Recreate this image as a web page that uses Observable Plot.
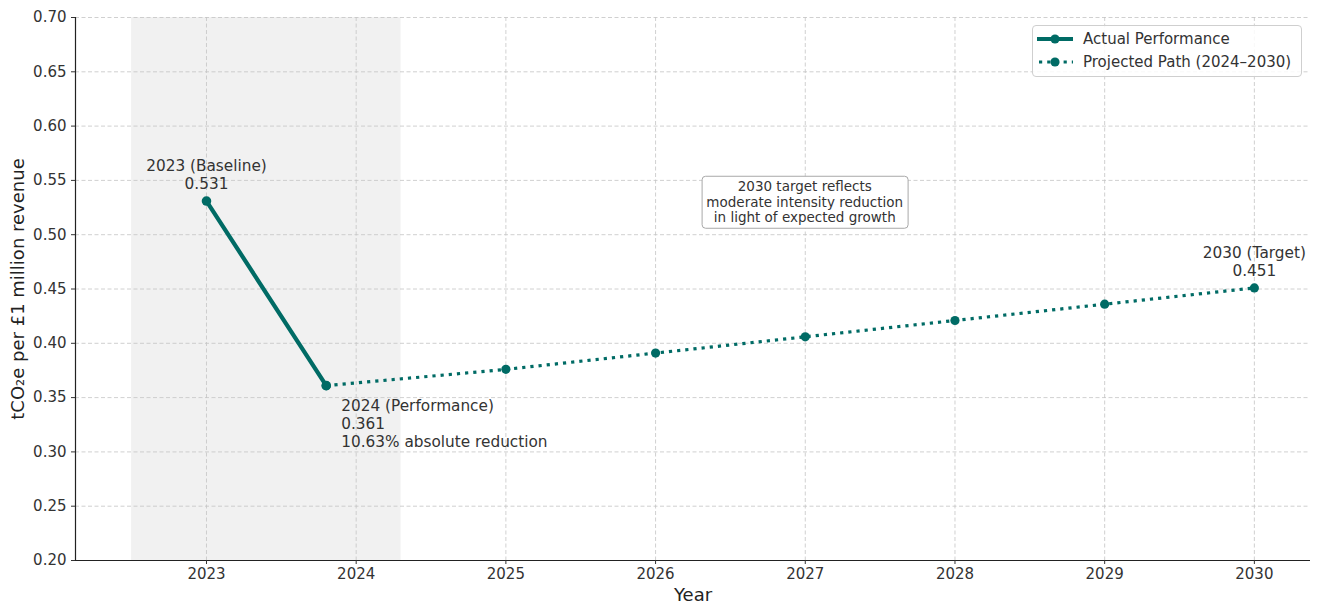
<!DOCTYPE html>
<html><head><meta charset="utf-8">
<script src="https://cdn.jsdelivr.net/npm/d3@7"></script>
<script src="https://cdn.jsdelivr.net/npm/@observablehq/plot@0.6"></script>
<style>
body{margin:0;background:#fff;font-family:"DejaVu Sans",sans-serif;}
#wrap{position:relative;width:1319px;height:606px;}
#legend{position:absolute;left:1032px;top:25px;width:268px;height:50px;border:1px solid #cfcfcf;border-radius:4px;background:rgba(255,255,255,0.85);font-size:15px;color:#333;}
#legend .row{position:absolute;left:0;height:22px;display:flex;align-items:center;}
#legend svg{margin-left:3px;margin-right:9px;}
#note{position:absolute;border:1px solid #a8a8a8;border-radius:4px;background:#fff;font-size:13.5px;line-height:15.5px;color:#333;text-align:center;padding:2px 4px;white-space:nowrap;transform:translate(-50%,-50%);}
</style>
</head><body><div id="wrap"></div>
<script>
const teal = "#006b65";
const actualYears = [2023, 2023.8];
const actualValues = [0.531, 0.361];
const projYears = [2023.8, 2025, 2026, 2027, 2028, 2029, 2030];
const projValues = [0.361, 0.376, 0.391, 0.406, 0.421, 0.436, 0.451];
const xTicks = [2023, 2024, 2025, 2026, 2027, 2028, 2029, 2030];
const xTickLabels = ["2023", "2024", "2025", "2026", "2027", "2028", "2029", "2030"];
const yTicks = [0.20, 0.25, 0.30, 0.35, 0.40, 0.45, 0.50, 0.55, 0.60, 0.65, 0.70];
const shadeStart = 2022.5, shadeEnd = 2024.3;
const xDomain = [2022.125, 2030.375];
const yDomain = [0.2, 0.7];
const topLabels = [
  {x: 2023, y: 0.531, text: "2023 (Baseline)\n0.531"},
  {x: 2030, y: 0.451, text: "2030 (Target)\n0.451"}
];
const perfLabel = [{x: 2023.8, y: 0.361, text: "2024 (Performance)\n0.361\n10.63% absolute reduction"}];
const noteText = ["2030 target reflects", "moderate intensity reduction", "in light of expected growth"];
const notePos = {x: 2027, y: 0.5295};

const actual = actualYears.map((x, i) => ({x, y: actualValues[i]}));
const proj = projYears.map((x, i) => ({x, y: projValues[i]}));

const grid = {stroke: "#c4c4c4", strokeWidth: 0.8, strokeDasharray: "4,2.5", strokeOpacity: 1};
const dotted = {strokeWidth: 3.2, strokeDasharray: "3.2,5", strokeLinecap: "butt"};

const plot = Plot.plot({
  width: 1319, height: 606,
  marginLeft: 75, marginRight: 9, marginTop: 17, marginBottom: 46,
  style: {fontFamily: "DejaVu Sans, sans-serif", fontSize: "15px", color: "#333", background: "#fff"},
  x: {domain: xDomain, ticks: xTicks, label: null},
  y: {domain: yDomain, ticks: yTicks, label: null},
  marks: [
    Plot.rect([{x1: shadeStart, x2: shadeEnd}], {x1: "x1", x2: "x2", y1: yDomain[0], y2: yDomain[1], fill: "#f1f1f1"}),
    Plot.ruleY(yTicks.slice(1), {y: d => d, ...grid}),
    Plot.ruleX(xTicks, {x: d => d, ...grid}),
    Plot.ruleX([xDomain[0]], {stroke: "#222", strokeWidth: 1.2}),
    Plot.ruleY([yDomain[0]], {stroke: "#222", strokeWidth: 1.2}),
    Plot.axisX({ticks: xTicks, tickSize: 4, tickPadding: 4, tickFormat: d => xTickLabels[xTicks.indexOf(d)], fill: "#333", stroke: "#333", label: null}),
    Plot.axisY({ticks: yTicks, tickSize: 4, tickPadding: 5, tickFormat: d => d.toFixed(2), fill: "#333", stroke: "#333", label: null}),
    Plot.text(["tCO₂e per £1 million revenue"], {frameAnchor: "left", textAnchor: "middle", dx: -57, rotate: -90, fontSize: 18, fill: "#222", text: d => d}),
    Plot.text(["Year"], {frameAnchor: "bottom", dy: 40, fontSize: 18, fill: "#222", text: d => d}),
    Plot.line(proj, {x: "x", y: "y", stroke: teal, ...dotted}),
    Plot.line(actual, {x: "x", y: "y", stroke: teal, strokeWidth: 4.2}),
    Plot.dot(proj, {x: "x", y: "y", r: 4.6, fill: teal}),
    Plot.dot(actual, {x: "x", y: "y", r: 4.8, fill: teal}),
    Plot.text(topLabels, {x: "x", y: "y", text: "text", lineAnchor: "bottom", dy: -12, fontSize: 15.3, lineHeight: 1.2, fill: "#333"}),
    Plot.text(perfLabel, {x: "x", y: "y", text: "text", lineAnchor: "top", textAnchor: "start", dx: 15, dy: 12, fontSize: 15.3, lineHeight: 1.2, fill: "#333"})
  ]
});
const wrap = document.getElementById("wrap");
wrap.appendChild(plot);

const sx = plot.scale("x"), sy = plot.scale("y");
const note = document.createElement("div");
note.id = "note";
note.innerHTML = noteText.join("<br>");
note.style.left = sx.apply(notePos.x) + "px";
note.style.top = sy.apply(notePos.y) + "px";
wrap.appendChild(note);

const legend = document.createElement("div");
legend.id = "legend";
legend.innerHTML = `
<div class="row" style="top:2px"><svg width="38" height="12"><line x1="1" y1="6" x2="37" y2="6" stroke="${teal}" stroke-width="4.2"/><circle cx="19" cy="6" r="4.6" fill="${teal}"/></svg>Actual Performance</div>
<div class="row" style="top:25px"><svg width="38" height="12"><line x1="3" y1="6" x2="37" y2="6" stroke="${teal}" stroke-width="3.2" stroke-dasharray="3.2,5"/><circle cx="19" cy="6" r="4.6" fill="${teal}"/></svg>Projected Path (2024–2030)</div>`;
wrap.appendChild(legend);
</script>
</body></html>
